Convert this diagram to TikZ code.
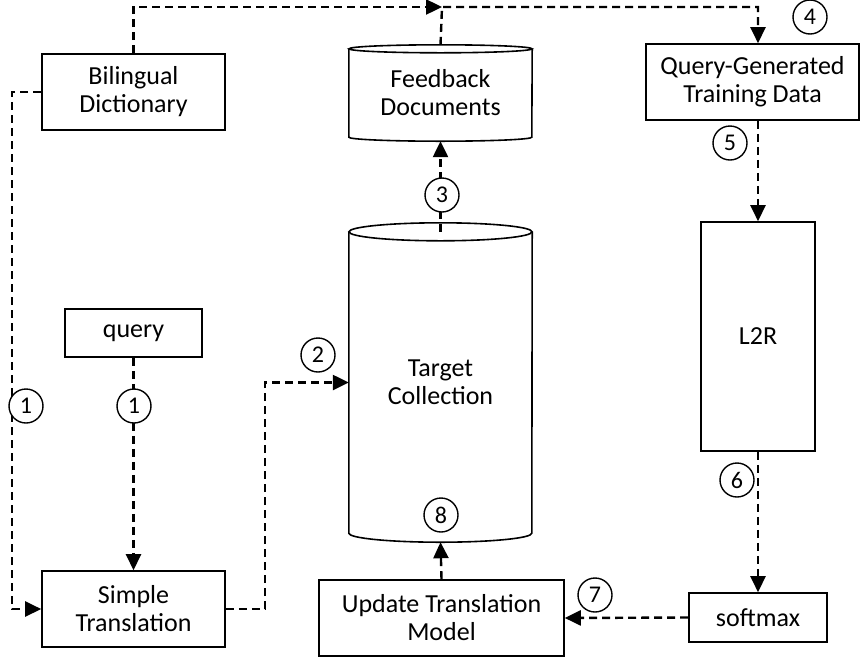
\documentclass[tikz,border=0pt]{standalone}
\usepackage{fontspec}
\setmainfont{Carlito}
\usetikzlibrary{arrows.meta}
\begin{document}
\begin{tikzpicture}[x=1pt,y=-1pt,
  box/.style={draw, line width=1.6pt, inner sep=0pt, align=center, font=\fontsize{26}{28}\selectfont},
  cyl/.style={inner sep=0pt, align=center, font=\fontsize{26}{28}\selectfont},
  cylline/.style={line width=1.6pt},
  num/.style={draw, circle, fill=white, line width=1.4pt, minimum size=34pt, inner sep=0pt, font=\fontsize{24}{24}\selectfont},
  link/.style={line width=2.4pt, dash pattern=on 8pt off 5pt},
  conn/.style={link, -{Triangle[length=16pt,width=15pt]}}]
\useasboundingbox (0,0) rectangle (861,662);

% boxes
\node[box, minimum width=183pt, minimum height=76pt] (bd) at (133.5,92) {Bilingual\\Dictionary};
\node[box, minimum width=137pt, minimum height=48pt] (q) at (133.5,333) {query};
\node[box, minimum width=183pt, minimum height=76pt] (st) at (133.5,609) {Simple\\Translation};
\node[box, minimum width=245pt, minimum height=76pt] (um) at (441.5,618) {Update Translation\\Model};
\node[box, minimum width=213pt, minimum height=76pt] (qg) at (752.5,82) {Query-Generated\\Training Data};
\node[box, minimum width=114pt, minimum height=229pt] (l2r) at (758,336.5) {L2R};
\node[box, minimum width=138pt, minimum height=49pt] (sm) at (758,617.5) {softmax};

% cylinders
\node[cyl, minimum width=183pt, minimum height=96pt] (fd) at (440.5,93) {Feedback\\Documents};
\draw[cylline] ([yshift=-4pt]fd.north west) -- ([yshift=4pt]fd.south west)
  arc[start angle=180,end angle=360,x radius=91.5pt,y radius=4pt]
  -- ([yshift=-4pt]fd.north east);
\draw[cylline] ([yshift=-4pt]fd.north) ellipse [x radius=91.5pt, y radius=4pt];

\node[cyl, minimum width=183pt, minimum height=319pt] (tc) at (440.5,382.5) {Target\\Collection};
\draw[cylline] ([yshift=-9pt]tc.north west) -- ([yshift=9pt]tc.south west)
  arc[start angle=180,end angle=360,x radius=91.5pt,y radius=9pt]
  -- ([yshift=-9pt]tc.north east);
\draw[cylline] ([yshift=-9pt]tc.north) ellipse [x radius=91.5pt, y radius=9pt];

% connectors
\coordinate (j) at (442,7);
\draw[conn] (bd.north) |- (j);
\draw[conn] (fd.north) -- (j) -| (l2r.north |- qg.north);
\draw[conn] (bd.west) -- ++(-29,0) |- (st.west);
\draw[conn] (q.south) -- (st.north);
\draw[conn] (st.east) -- ++(39,0) |- (tc.west);
\draw[conn] ([yshift=-9pt]tc.north) -- (fd.south);
\draw[conn] (l2r.north |- qg.south) -- (l2r.north);
\draw[conn] (l2r.south) -- (sm.north);
\draw[conn] (sm.west) -- (um.east);
\draw[conn] (um.north) -- (tc.south);

% step numbers
\node[num] (n4) at (810,17) {4};
\node[num] (n5) at (730,143) {5};
\node[num] (n3) at (442,195) {3};
\node[num] (n2) at (318,355) {2};
\node[num] (n1a) at (26,406) {1};
\node[num] (n1b) at (134,406) {1};
\node[num] (n6) at (737,480) {6};
\node[num] (n8) at (441,515) {8};
\node[num] (n7) at (595,595) {7};
\end{tikzpicture}
\end{document}
